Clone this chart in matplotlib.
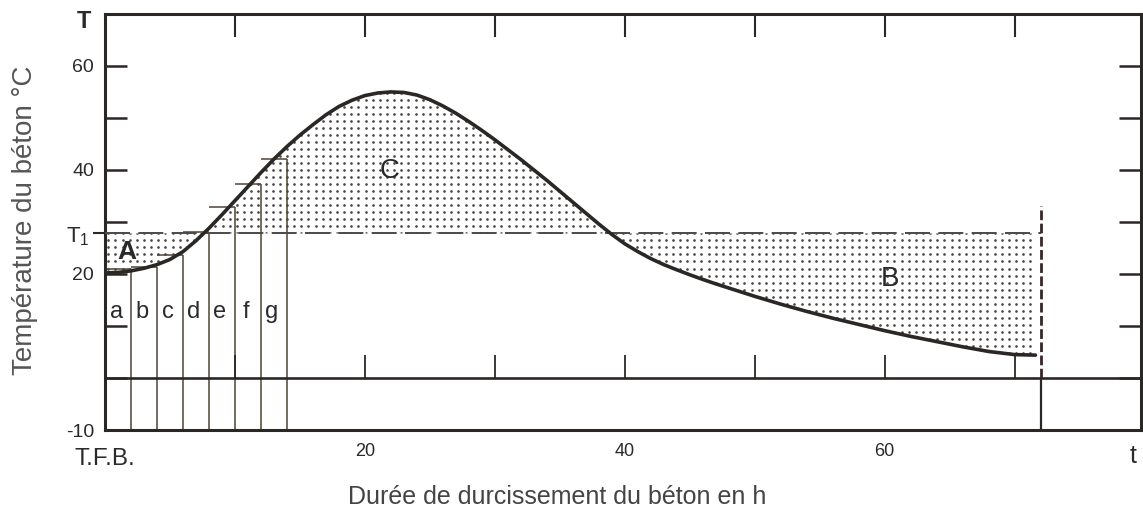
import matplotlib
matplotlib.use("Agg")
import matplotlib.pyplot as plt
from matplotlib.patches import PathPatch
import numpy as np

plt.rcParams["font.family"] = ["Liberation Sans", "DejaVu Sans"]
plt.rcParams["mathtext.default"] = "regular"
plt.rcParams["lines.scale_dashes"] = False

# temperature curve of the concrete
HOURS = [0, 1, 2, 3, 4, 5, 6, 7, 8, 9, 10, 11, 12, 13, 14, 15, 16, 17, 18,
         19, 20, 21, 22, 23, 24, 25, 26, 27, 28, 29, 30, 31, 32, 33, 34, 35,
         36, 37, 38, 39, 40, 41, 42, 43, 44, 45, 46, 47, 48, 50, 52, 54, 56,
         58, 60, 62, 64, 66, 68, 69, 70, 71.6]
TEMP = [20.2, 20.3, 20.6, 21.1, 21.8, 22.8, 24.3, 26.4, 28.8, 31.4, 34.1,
        36.8, 39.5, 42.1, 44.5, 46.7, 48.7, 50.6, 52.2, 53.4, 54.3, 54.8,
        55.0, 54.9, 54.4, 53.5, 52.3, 50.9, 49.3, 47.6, 45.8, 43.9, 42.0,
        40.0, 38.0, 35.9, 33.8, 31.7, 29.6, 27.6, 25.8, 24.3, 22.95, 21.8,
        20.8, 19.85, 18.95, 18.1, 17.3, 15.7, 14.2, 12.8, 11.5, 10.3, 9.1,
        8.0, 7.0, 6.0, 5.1, 4.8, 4.5, 4.4]
T1 = 27.8

# step bars a..g
BAR_LABELS = ["a", "b", "c", "d", "e", "f", "g"]
BAR_EDGES = [2, 4, 6, 8, 10, 12, 14]
BAR_TOPS = [21.0, 21.3, 23.7, 28.0, 32.9, 37.3, 42.1]

ZERO_TICKS = [10, 20, 30, 40, 50, 60, 70]
ZERO_TICK_TOP = 4.4
END_HOUR = 72
END_TOP = 33

Y_TICKS = [-10, 0, 10, 20, 30, 40, 50, 60]
Y_LABELS = ["-10", "", "", "20", "", "40", "", "60"]
X_TICKS = [10, 20, 30, 40, 50, 60, 70]
X_LABELS = ["", "20", "", "40", "", "60", ""]

DARK = "#2b2725"
THIN = "#4f4433"
TXT = "#2a2a2a"

fig = plt.figure(figsize=(11.43, 5.15), dpi=100)
ax = fig.add_axes([0.0919, 0.165, 0.9061, 0.808])
ax.set_xlim(0, 79.7)
ax.set_ylim(-10, 70)

hours = np.array(HOURS)
temp = np.array(TEMP)

# dotted areas A, C, B : a regular dot screen clipped to each area
gx, gy = np.meshgrid(np.arange(0.25, 79.7, 0.55), np.arange(-10, 70, 1.35))
areas = [(temp <= T1) & (hours < 20), temp >= T1, (temp <= T1) & (hours > 20)]
for mask in areas:
    poly = ax.fill_between(hours, temp, T1, where=mask, interpolate=True,
                           facecolor="none", linewidth=0)
    clip = PathPatch(poly.get_paths()[0], transform=ax.transData,
                     facecolor="none", edgecolor="none")
    ax.add_patch(clip)
    sc = ax.scatter(gx.ravel(), gy.ravel(), s=3.6, color="#454545",
                    linewidths=0, zorder=1)
    sc.set_clip_path(clip)

# step bars
prev = 0
for edge, top in zip(BAR_EDGES, BAR_TOPS):
    ax.vlines(edge, -10, top, color=THIN, lw=1.1, zorder=2)
    ax.hlines(top, prev, edge, color=THIN, lw=1.1, zorder=2)
    prev = edge
for lab, edge in zip(BAR_LABELS, BAR_EDGES):
    ax.text(edge - 1.15, 12.7, lab, fontsize=17, color=TXT, ha="center", va="center")

# zero line and its small ticks
ax.axhline(0, color=DARK, lw=1.9, zorder=3)
ax.vlines(ZERO_TICKS, 0, ZERO_TICK_TOP, color=DARK, lw=1.3, zorder=3)

# T1 and end of the period
ax.plot([0, END_HOUR], [T1, T1], color="#4a4a4a", lw=1.4, dashes=(18, 6), zorder=3)
ax.plot([END_HOUR, END_HOUR], [0, END_TOP], color="#3a2626", lw=2.0, dashes=(7, 2.5), zorder=3)
ax.vlines(END_HOUR, -10, 0, color=DARK, lw=1.6, zorder=3)

ax.plot(hours, temp, color=DARK, lw=2.6, zorder=5, solid_capstyle="round",
        solid_joinstyle="round")

ax.text(1.7, 24.2, "A", fontsize=19, fontweight="bold", color=TXT, ha="center", va="center")
ax.text(21.9, 39.8, "C", fontsize=20, color=TXT, ha="center", va="center")
ax.text(60.4, 19.0, "B", fontsize=20, color=TXT, ha="center", va="center")

ax.set_xticks(X_TICKS, labels=X_LABELS)
ax.set_yticks(Y_TICKS, labels=Y_LABELS)
ax.set_yticks([T1], labels=["T$_1$"], minor=True)
ax.tick_params(axis="x", direction="in", top=True, bottom=False, length=16.5,
               width=1.5, color=DARK, pad=9, labelsize=13, labelcolor=TXT)
ax.tick_params(axis="y", which="major", direction="in", left=True, right=True,
               length=16, width=1.8, color=DARK, pad=8, labelsize=14, labelcolor=TXT)
ax.tick_params(axis="y", which="minor", direction="out", left=True, right=False,
               length=9, width=1.5, color=DARK, pad=2, labelsize=16, labelcolor=TXT)
for s in ax.spines.values():
    s.set_linewidth(2.2)
    s.set_color(DARK)

ax.text(-1.6, 68.6, "T", fontsize=17, fontweight="bold", color=TXT,
        ha="center", va="center", clip_on=False)
ax.text(0, -15.6, "T.F.B.", fontsize=17.5, color=TXT, ha="center", va="center", clip_on=False)
ax.text(79.1, -15.0, "t", fontsize=18, color=TXT, ha="center", va="center", clip_on=False)

fig.text(557 / 1143, 1 - 497 / 515, "Durée de durcissement du béton en h",
         fontsize=18, color="#444444", ha="center", va="center")
fig.text(25 / 1143, 1 - 220 / 515, "Température du béton °C", rotation=90,
         fontsize=20, color="#555555", ha="center", va="center")

fig.savefig("out.png", dpi=100)
